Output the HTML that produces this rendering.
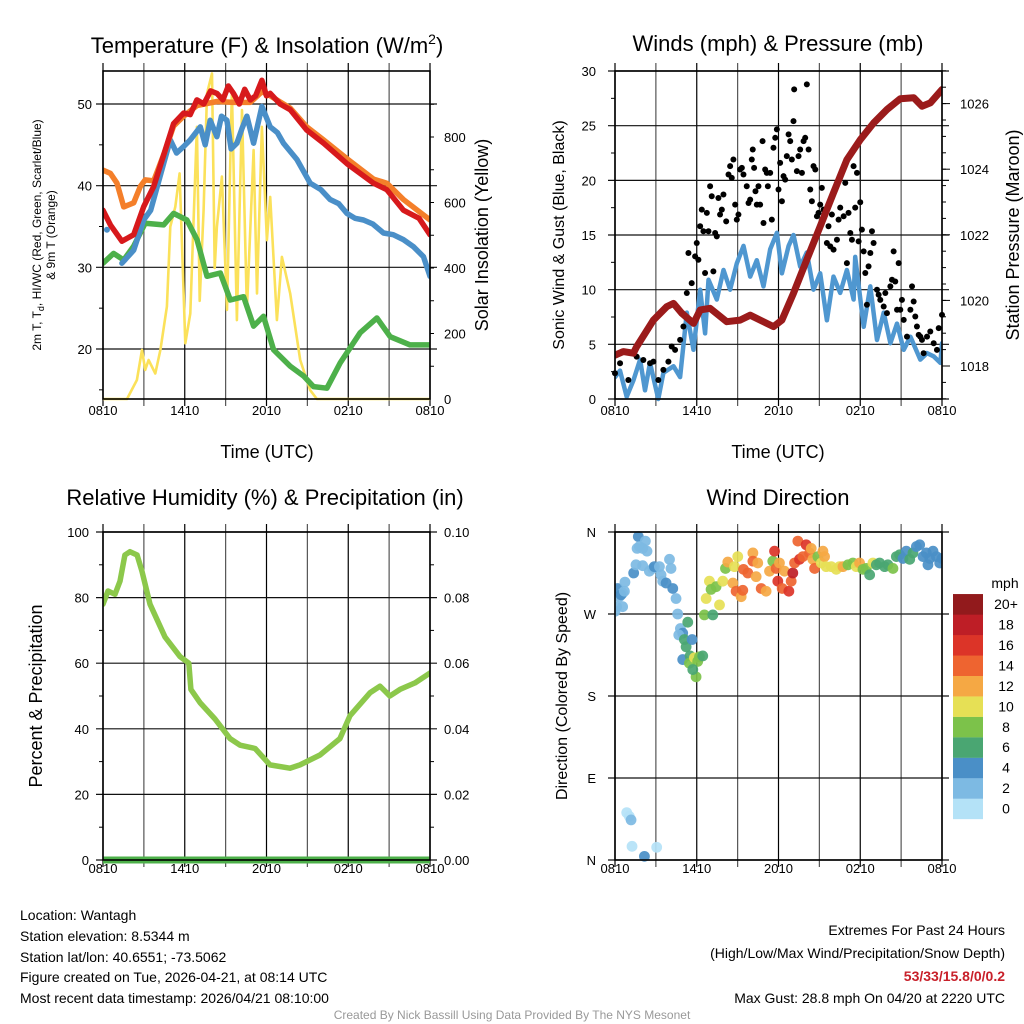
<!DOCTYPE html>
<html><head><meta charset="utf-8"><style>
html,body{margin:0;padding:0;background:#fff;}
svg{display:block;font-family:"Liberation Sans",Arial,sans-serif;}
</style></head><body>
<svg id="root" width="1024" height="1024" viewBox="0 0 1024 1024">
<text x="267" y="53" font-size="22" text-anchor="middle">Temperature (F) &amp; Insolation (W/m<tspan font-size="14" dy="-9">2</tspan><tspan dy="9">)</tspan></text>
<text x="778" y="51" font-size="22" text-anchor="middle">Winds (mph) &amp; Pressure (mb)</text>
<text x="265" y="505" font-size="22" text-anchor="middle">Relative Humidity (%) &amp; Precipitation (in)</text>
<text x="778" y="505" font-size="22" text-anchor="middle">Wind Direction</text>
<text x="267" y="458" font-size="18" text-anchor="middle">Time (UTC)</text>
<text x="778" y="458" font-size="18" text-anchor="middle">Time (UTC)</text>
<text transform="translate(41,235) rotate(-90)" font-size="12" text-anchor="middle">2m T, T<tspan font-size="9" dy="3">d</tspan><tspan dy="-3">, HI/WC (Red, Green, Scarlet/Blue)</tspan></text>
<text transform="translate(55,235) rotate(-90)" font-size="12" text-anchor="middle">&amp; 9m T (Orange)</text>
<text transform="translate(488,235) rotate(-90)" font-size="18" text-anchor="middle">Solar Insolation (Yellow)</text>
<text transform="translate(564,235) rotate(-90)" font-size="16" text-anchor="middle">Sonic Wind &amp; Gust (Blue, Black)</text>
<text transform="translate(1019,235) rotate(-90)" font-size="18" text-anchor="middle">Station Pressure (Maroon)</text>
<text transform="translate(42,696) rotate(-90)" font-size="18" text-anchor="middle">Percent &amp; Precipitation</text>
<text transform="translate(567,696) rotate(-90)" font-size="16" text-anchor="middle">Direction (Colored By Speed)</text>
<g font-size="14">
<text x="20" y="920">Location: Wantagh</text>
<text x="20" y="941">Station elevation: 8.5344 m</text>
<text x="20" y="962">Station lat/lon: 40.6551; -73.5062</text>
<text x="20" y="982">Figure created on Tue, 2026-04-21, at 08:14 UTC</text>
<text x="20" y="1003">Most recent data timestamp: 2026/04/21 08:10:00</text>
</g>
<g font-size="14" text-anchor="end">
<text x="1005" y="935">Extremes For Past 24 Hours</text>
<text x="1005" y="958">(High/Low/Max Wind/Precipitation/Snow Depth)</text>
<text x="1005" y="981" fill="#c8202a" font-weight="bold">53/33/15.8/0/0.2</text>
<text x="1005" y="1003">Max Gust: 28.8 mph On 04/20 at 2220 UTC</text>
</g>
<text x="512" y="1019" font-size="12" fill="#999" text-anchor="middle">Created By Nick Bassill Using Data Provided By The NYS Mesonet</text>
<text x="1005" y="588" font-size="14" text-anchor="middle">mph</text>
</svg>
<script>
// ---------- data ----------
var xTickLabels = ["0810","1410","2010","0210","0810"];
var xTickHours = [0,6,12,18,24];
var tempTicks = [20,30,40,50];
var solarTicks = [0,200,400,600,800];
var windTicks = [0,5,10,15,20,25,30];
var pressTicks = [1018,1020,1022,1024,1026];
var rhTicks = [0,20,40,60,80,100];
var precipTickLabels = ["0.00","0.02","0.04","0.06","0.08","0.10"];
var dirTickLabels = ["N","E","S","W","N"];
var dirTickDeg = [0,90,180,270,360];
var legendLabels = ["0","2","4","6","8","10","12","14","16","18","20+"];
var legendColors = ["#b4e2f7","#7dbae3","#4a8fc7","#4aa672","#7cc24a","#e6e055","#f5a844","#ee6430","#dc3428","#be1e26","#921a1c"];

var redH = [0,0.54,1.39,2.25,2.98,3.72,4.5,5.18,5.92,6.4,6.89,7.4,7.9,8.36,8.8,9.2,9.58,10.0,10.4,10.81,11.2,11.66,12.0,12.27,13.0,13.74,14.96,16.19,17.9,19.85,20.83,22.05,23.2,24];
var redT = [37.0,35.2,33.2,34.0,37.4,39.9,44.0,47.6,48.9,48.7,50.5,50.0,51.6,51.3,50.5,52.2,51.3,50.0,51.8,50.5,51.0,52.9,51.0,51.3,50.0,49.3,46.8,45.2,42.7,40.3,39.5,37.0,36.0,34.0];
var orangeH = [0,0.54,1.03,1.52,2.25,2.74,3.1,3.72,4.5,5.18,5.92,6.89,8.36,9.58,10.81,11.66,12.27,13.74,14.96,16.19,17.9,19.85,20.83,22.05,24];
var orangeT = [41.9,41.5,40.3,37.4,37.9,39.9,40.7,40.6,44.0,47.3,48.5,49.8,50.3,50.2,50.2,51.5,51.0,49.5,47.2,45.6,43.3,40.8,40.3,38.3,35.8];
var blueH = [1.39,2.25,2.98,3.5,4.45,4.94,5.4,5.92,6.4,7.14,7.5,7.87,8.36,8.7,9.09,9.4,9.83,10.2,10.56,11.05,11.66,12.27,12.8,13.25,14.23,15.21,16.0,16.67,17.3,17.9,18.5,19.12,19.8,20.59,21.3,22.05,22.8,23.52,24];
var blueT = [30.5,32.1,35.8,37.0,42.7,45.6,44.0,44.8,45.6,47.2,45.0,48.0,46.0,48.5,48.0,44.5,45.2,47.0,48.5,45.2,49.7,47.2,46.5,45.2,43.2,40.3,39.5,38.3,37.8,36.6,36.0,35.8,35.3,34.2,34.0,33.4,32.5,31.3,28.9];
var greenH = [0,0.78,1.52,2.25,3.1,4.45,5.18,6.16,6.9,7.63,8.61,9.34,10.32,11.05,11.78,12.52,13.74,14.72,15.45,16.43,17.41,18.88,20.1,21.08,22.54,24];
var greenT = [30.5,31.7,30.9,32.6,35.4,35.2,36.6,35.8,33.4,28.9,29.3,26.0,26.4,22.8,24.0,19.9,17.9,16.7,15.4,15.2,18.3,22.0,23.8,21.5,20.5,20.5];
var solarH = [0,1.76,2.49,2.86,3.1,3.35,3.84,4.21,4.69,4.94,5.31,5.62,6.04,6.41,6.89,7.1,7.38,7.63,8.0,8.2,8.36,8.73,9.1,9.46,9.83,10.2,10.56,11.05,11.3,11.66,12.03,12.27,12.76,13.13,13.74,14.47,15.21,15.7,24];
var solarW = [0,0,58,150,89,119,78,150,282,526,587,689,170,261,831,300,577,933,994,400,526,679,272,943,241,882,272,760,322,831,485,617,241,434,322,119,27,0,0];

var windH = [0,0.37,0.86,1.35,1.84,2.2,2.57,3.18,3.55,4.29,4.78,5.27,5.76,6.25,6.61,6.86,7.47,7.96,8.45,8.94,9.43,9.92,10.41,10.9,11.39,11.88,12.25,12.74,13.1,13.59,14.08,14.57,15.06,15.55,16.04,16.53,17.02,17.51,17.63,18.25,18.74,19.23,19.72,20.21,20.7,21.19,21.68,22.41,22.9,23.39,23.88,24];
var windS = [2.0,2.6,0.2,1.7,3.6,0.8,3.3,0,2.4,3.0,2.0,7.9,4.5,10,6.0,10.9,9.1,11.8,10,12.4,14,11.2,12.7,10.3,13.7,15.2,11.5,14,15,12.1,13.4,10,11.5,7.2,11.2,9.7,11.8,9.1,13,6.6,10.3,5.4,7.9,5.1,6.9,4.5,5.7,3.6,4.2,3.9,3.3,5.1];
var pressH = [0,0.61,1.35,1.59,2.82,3.8,4.29,4.9,5.76,6.25,6.98,8.2,9.18,9.92,11.14,11.63,12.25,13.1,14.08,15.06,16.04,17.02,18.0,18.98,19.96,20.94,21.92,22.53,23.14,24];
var pressMb = [1018.33,1018.44,1018.39,1018.59,1019.4,1019.81,1019.91,1019.61,1019.3,1019.71,1019.76,1019.35,1019.4,1019.55,1019.3,1019.2,1019.4,1020.22,1021.24,1022.26,1023.28,1024.29,1024.9,1025.41,1025.82,1026.15,1026.18,1025.92,1026.02,1026.43];
var gustH = [0,0.37,0.98,1.59,2.08,2.57,2.82,3.18,3.55,3.92,4.16,4.41,4.78,5.02,5.27,5.39,5.63,5.88,6.0,6.12,6.25,6.37,6.49,6.61,6.74,6.86,6.98,7.1,7.22,7.35,7.47,7.59,7.71,7.84,7.96,8.16,8.33,8.45,8.57,8.69,8.82,8.94,9.06,9.18,9.31,9.43,9.67,9.8,9.92,10.04,10.11,10.21,10.31,10.41,10.53,10.65,10.83,10.9,11.02,11.14,11.22,11.39,11.51,11.63,11.76,11.88,12.0,12.12,12.25,12.37,12.49,12.61,12.74,12.86,12.98,13.1,13.15,13.35,13.47,13.59,13.72,13.84,13.96,14.08,14.21,14.33,14.45,14.57,14.7,14.82,14.94,15.06,15.18,15.31,15.43,15.55,15.67,15.8,15.92,16.04,16.29,16.41,16.53,16.78,16.9,17.02,17.14,17.27,17.39,17.51,17.63,17.76,17.88,18.0,18.12,18.25,18.37,18.49,18.61,18.74,18.86,18.98,19.23,19.35,19.47,19.72,19.84,19.96,20.21,20.33,20.45,20.57,20.7,20.82,20.94,21.06,21.19,21.43,21.68,21.8,21.92,22.04,22.16,22.29,22.41,22.53,22.65,22.9,23.14,23.39,23.63,23.76,24];
var gustS = [2.35,3.27,1.74,3.88,3.57,3.27,3.42,1.74,2.66,3.42,4.8,4.49,5.41,6.63,9.69,13.35,10.6,13.05,14.27,12.74,15.8,17.32,15.34,11.52,17.02,15.34,19.46,18.55,11.67,15.18,14.88,18.39,16.87,17.32,18.7,16.25,20.53,21.3,20.23,21.91,17.78,16.41,16.87,20.99,21.14,20.53,19.46,17.93,18.24,21.91,22.82,21.14,19.0,17.78,19.46,17.78,23.59,16.1,20.99,20.68,19.46,20.68,16.41,22.98,23.89,24.66,19.16,21.6,18.09,20.38,20.07,22.21,24.2,23.59,21.91,25.42,28.32,20.84,22.21,22.82,20.68,23.59,23.89,28.78,22.82,19.16,18.09,21.3,20.99,16.71,17.02,17.78,19.31,17.32,16.87,14.27,15.8,13.96,16.87,13.66,14.57,16.41,17.5,16.71,19.77,12.43,17.02,15.18,14.57,21.3,17.5,20.68,14.42,18.0,15.49,13.5,11.52,8.62,12.13,13.35,15.34,14.27,9.99,9.53,9.07,8.46,9.69,7.85,10.3,10.91,13.5,10.75,8.16,12.43,8.16,9.07,7.24,5.71,8.16,10.3,8.92,7.55,6.63,5.87,5.71,5.41,4.19,5.71,6.17,5.1,4.49,6.48,7.7];

var dirH = [0,0.12,0.32,0.2,0.56,0.44,0.73,0.69,0.56,1.37,1.54,1.71,1.79,1.62,2.03,2.23,2.35,2.03,2.52,2.77,2.89,3.26,3.38,3.5,3.75,4.0,4.11,4.24,4.48,4.6,4.8,4.97,4.68,5.09,5.22,5.34,5.66,4.97,5.51,5.46,5.83,6.07,6.2,6.44,5.95,5.71,6.56,7.18,6.69,6.93,7.05,7.42,7.67,7.91,8.11,8.28,8.65,8.77,9.01,8.89,9.26,9.38,9.43,9.75,10.12,10.12,10.36,10.48,10.73,11.09,11.34,11.58,11.71,11.83,11.95,12.07,12.27,12.44,12.76,12.93,13.05,13.18,13.42,13.54,13.79,14.03,14.28,14.4,14.52,14.65,14.89,15.14,15.26,15.38,15.5,15.87,16.24,16.48,16.73,17.1,17.46,17.71,17.95,18.2,18.44,18.69,18.93,19.18,19.42,19.79,20.03,20.4,20.65,20.89,21.14,21.38,21.63,21.87,22.12,22.36,22.61,22.85,22.97,23.1,23.34,23.59,23.83,24.0,0.86,1.05,1.18,1.25,2.16,3.06];
var dirDeg = [273,278,289,298,293,291,305,295,278,315,324,355,344,342,342,350,339,323,317,320,322,322,313,306,304,330,320,298,287,270,254,249,247,242,234,261,242,220,224,216,222,218,223,224,201,209,269,269,287,306,297,300,280,306,320,327,304,322,333,295,289,296,319,315,337,328,311,326,298,295,317,328,339,320,306,326,298,317,295,306,315,326,350,330,333,346,337,342,330,320,333,326,339,333,322,322,319,322,322,324,326,322,326,319,320,313,326,324,326,322,324,320,333,335,331,339,330,337,344,346,333,337,324,331,339,333,326,331,52,48,44,15,4,14];
var dirSpd = [2,1,2,3,2,3,1,1,1,3,2,3,2,2,2,2,2,1,2,2,3,1,1,2,3,2,2,4,2,2,2,4,2,6,6,6,4,4,6,8,10,8,8,6,8,6,8,6,10,10,8,7,10,10,7,12,12,10,10,13,12,14,14,13,12,13,12,12,14,12,12,8,16,14,15,12,14,12,15,13,17,14,13,15,14,15,14,12,12,13,7,10,11,12,10,10,9,10,12,8,7,10,12,8,7,6,10,6,6,5,6,7,6,5,4,4,5,6,4,4,3,4,4,4,4,4,4,4,0,0,1,0,4,0];

var rhH = [0,0.37,0.88,1.25,1.61,1.98,2.5,2.86,3.45,4.55,5.65,6.3,6.45,7.12,8.22,9.32,10.06,11.16,12.26,13.72,14.46,15.93,17.39,18.13,19.6,20.33,21.06,21.8,22.9,24];
var rhPct = [78,82,81,85,93,94,93,88,78,68,62,60,52,48,43,37,35,34,29,28,29,32,37,44,51,53,50,52,54,57];
var precipH = [0,24];
var precipIn = [0,0];

// ---------- helpers ----------
var NS = "http://www.w3.org/2000/svg";
var root = document.getElementById("root");
function mk(tag, attrs, parent){
  var el = document.createElementNS(NS, tag);
  for (var k in attrs) el.setAttribute(k, attrs[k]);
  (parent || root).appendChild(el);
  return el;
}
function Panel(x0,x1,y0,y1){ this.x0=x0;this.x1=x1;this.y0=y0;this.y1=y1; }
Panel.prototype.x = function(h){ return this.x0 + h*(this.x1-this.x0)/24; };
var P1 = new Panel(103,430,71,399), P2 = new Panel(615,942,71,399), P3 = new Panel(103,430,532,860), P4 = new Panel(615,942,532,860);
function yTemp(v){ return 349 - (v-20)*8.1667; }
function ySolar(v){ return 399 - v*0.3275; }
function yWind(v){ return 399 - v*10.933; }
function yPress(p){ return 366 - (p-1018)*32.8; }
function yRH(v){ return 860 - v*3.28; }
function yPrecip(v){ return 860 - v*3280; }
function yDir(d){ return 860 - d*(328/360); }

var defs = mk("defs",{});
[P1,P2,P3,P4].forEach(function(p,i){
  var cp = mk("clipPath",{id:"clip"+i},defs);
  mk("rect",{x:p.x0,y:p.y0-4,width:p.x1-p.x0,height:p.y1-p.y0+8},cp);
});

function grid(p, hy, name){
  var g = mk("g",{});
  
  
  for (var h=0; h<=24; h+=3){
    var gx = p.x(h);
    var vl = mk("line",{x1:gx,x2:gx,y1:p.y0-8,y2:p.y1+7,stroke:(h%6==0)?"#000":"#555","stroke-width":1.2},g);
    
    
  }
  hy.forEach(function(yy){
    var hl = mk("line",{x1:p.x0-7,x2:p.x1+7,y1:yy,y2:yy,stroke:"#111","stroke-width":1.2},g);
    
    
  });
  return g;
}
function frame(p, name){
  var r = mk("rect",{x:p.x0,y:p.y0,width:p.x1-p.x0,height:p.y1-p.y0,fill:"none",stroke:"#000","stroke-width":1.6});
  
  
}
function xLabels(p, ty, name){
  var g = mk("g",{"font-size":13,"text-anchor":"middle"});
  
  
  xTickHours.forEach(function(h,i){
    var t = mk("text",{x:p.x(h),y:ty},g); t.textContent = xTickLabels[i];
    
    
  });
}
function yLabels(vals, labels, fy, lx, anchor, name){
  var g = mk("g",{"font-size":13,"text-anchor":anchor});
  
  
  vals.forEach(function(v,i){
    var t = mk("text",{x:lx,y:fy(v)+5},g); t.textContent = labels[i];
    
    
  });
}
function ticks(xa, xb, ys, name){
  var g = mk("g",{stroke:"#000","stroke-width":1});
  
  
  ys.forEach(function(yy){ mk("line",{x1:xa,x2:xb,y1:yy,y2:yy},g); });
}
function line(p, ci, hs, vs, fy, color, w, name){
  var d = "";
  hs.forEach(function(h,i){ d += (i?"L":"M") + p.x(h).toFixed(1) + "," + fy(vs[i]).toFixed(1); });
  var el = mk("path",{d:d,fill:"none",stroke:color,"stroke-width":w,"stroke-linejoin":"round","stroke-linecap":"round","clip-path":"url(#clip"+ci+")"});
  
  
  return el;
}

// ---------- Panel 1: temperature ----------
grid(P1, tempTicks.map(yTemp), "temperature");
var mt=[]; for (var v=15; v<=50; v+=5) if (v%10) mt.push(yTemp(v)); ticks(P1.x0-4,P1.x0,mt,"temp-minor-ticks");
var ms=[]; for (var v=100; v<=900; v+=100) ms.push(ySolar(v)); ticks(P1.x1,P1.x1+4,ms,"solar-minor-ticks");
line(P1,0,solarH,solarW,ySolar,"#fbe15a",2.6,"solar-insolation-line");
line(P1,0,greenH,greenT,yTemp,"#4db04a",5.5,"dewpoint-line");
line(P1,0,blueH,blueT,yTemp,"#4a8fc8",5.5,"windchill-line");
var bd = mk("circle",{cx:P1.x(0.29),cy:yTemp(34.6),r:3,fill:"#4a8fc8"});


line(P1,0,orangeH,orangeT,yTemp,"#f47f2a",5.5,"temp-9m-line");
line(P1,0,redH,redT,yTemp,"#d7191c",5.5,"temp-2m-line");
frame(P1,"temperature");
xLabels(P1,415,"temperature");
yLabels(tempTicks,tempTicks.map(String),yTemp,92,"end","temp-y-tick-labels");
yLabels(solarTicks,solarTicks.map(String),ySolar,444,"start","solar-y-tick-labels");

// ---------- Panel 2: winds ----------
grid(P2, windTicks.map(yWind), "winds");
var mw=[]; for (var v=2.5; v<30; v+=5) mw.push(yWind(v)); ticks(P2.x0-4,P2.x0,mw,"wind-minor-ticks");
var mp=[]; for (var v=1017; v<=1027; v+=0.5) mp.push(yPress(v)); ticks(P2.x1,P2.x1+4,mp,"pressure-minor-ticks");
ticks(P2.x1,P2.x1+8,pressTicks.map(yPress),"pressure-major-ticks");
line(P2,1,windH,windS,yWind,"#4f97d0",4.5,"sonic-wind-line");
var gg = mk("g",{fill:"#000"});


gustH.forEach(function(h,i){
  var c = mk("circle",{cx:P2.x(h),cy:yWind(gustS[i]),r:3},gg);
  
  
});
line(P2,1,pressH,pressMb,yPress,"#9b1b1b",7,"pressure-line");
frame(P2,"winds");
xLabels(P2,415,"winds");
yLabels(windTicks,windTicks.map(String),yWind,596,"end","wind-y-tick-labels");
yLabels(pressTicks,pressTicks.map(String),yPress,960,"start","pressure-y-tick-labels");

// ---------- Panel 3: RH ----------
grid(P3, rhTicks.map(yRH), "humidity");
var mr=[]; for (var v=10; v<100; v+=20) mr.push(yRH(v)); ticks(P3.x0-4,P3.x0,mr,"rh-minor-ticks"); ticks(P3.x1,P3.x1+4,mr,"precip-minor-ticks");
line(P3,2,rhH,rhPct,yRH,"#8cc84b",5.5,"relative-humidity-line");
line(P3,2,precipH,precipIn,yPrecip,"#4db04a",7,"precipitation-line");
frame(P3,"humidity");
xLabels(P3,873,"humidity");
yLabels(rhTicks,rhTicks.map(String),yRH,89,"end","rh-y-tick-labels");
yLabels(rhTicks,precipTickLabels,yRH,444,"start","precip-y-tick-labels");

// ---------- Panel 4: direction ----------
grid(P4, dirTickDeg.map(yDir), "direction");
var dg = mk("g",{"clip-path":"url(#clip3)"});


dirH.forEach(function(h,i){
  var idx = Math.min(10, Math.round(dirSpd[i]/2));
  var c = mk("circle",{cx:P4.x(h),cy:yDir(dirDeg[i]),r:5.4,fill:legendColors[idx],"fill-opacity":0.92},dg);
  
  
});
frame(P4,"direction");
xLabels(P4,873,"direction");
yLabels(dirTickDeg,dirTickLabels,yDir,596,"end","direction-y-tick-labels");

// ---------- legend ----------
var lg = mk("g",{"font-size":14,"text-anchor":"middle"});


legendLabels.forEach(function(lab,i){
  var top = 819 - (i+1)*20.45;
  var r = mk("rect",{x:953,y:top,width:30,height:20.6,fill:legendColors[i]},lg);
  
  
  var t = mk("text",{x:1006,y:top+15},lg); t.textContent = lab;
  
  
});
</script>
</body></html>
